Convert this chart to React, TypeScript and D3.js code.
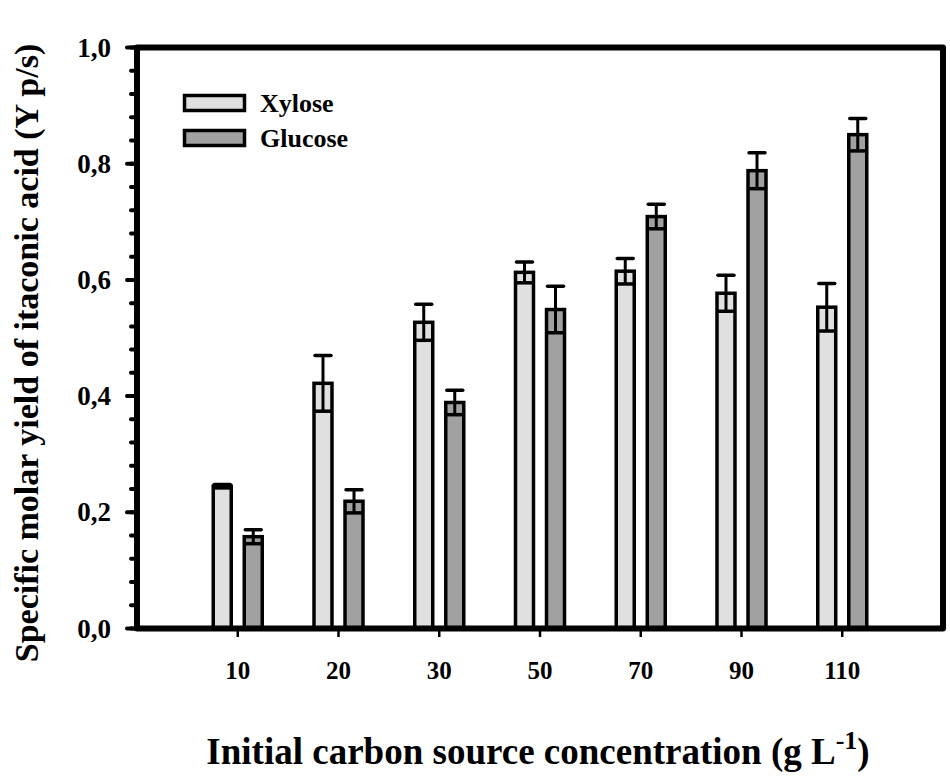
import React from 'react';
import * as d3 from 'd3';

const categories = ['10', '20', '30', '50', '70', '90', '110'];
const seriesNames = ['Xylose', 'Glucose'];
const xyloseMean = [0.245, 0.422, 0.527, 0.613, 0.615, 0.577, 0.553];
const xyloseErr = [0.003, 0.048, 0.031, 0.018, 0.022, 0.031, 0.041];
const glucoseMean = [0.158, 0.219, 0.389, 0.549, 0.709, 0.788, 0.850];
const glucoseErr = [0.012, 0.02, 0.021, 0.04, 0.021, 0.031, 0.028];
const yTicks = [0, 0.2, 0.4, 0.6, 0.8, 1.0];
const yMinor = d3.range(0, 1.0001, 0.04);

const fills: Record<string, string> = { Xylose: '#e0e0e0', Glucose: '#a1a1a1' };
const FONT = '"Liberation Serif", "Times New Roman", serif';

export default function App() {
  const left = 137, right = 943, top = 47.5, bottom = 628.5;

  const x = d3.scaleLinear().domain([0, categories.length + 1]).range([left, right]);
  const inner = d3.scaleBand<string>().domain(seriesNames).range([-24.5, 24.5]).paddingInner(0.42);
  const y = d3.scaleLinear().domain([0, 1]).range([bottom, top]);
  const fmt = (v: number) => d3.format('.1f')(v).replace('.', ',');

  const rows = categories.map((c, i) => ({
    c,
    i,
    vals: [
      { s: 'Xylose', m: xyloseMean[i], e: xyloseErr[i] },
      { s: 'Glucose', m: glucoseMean[i], e: glucoseErr[i] },
    ],
  }));
  const bw = inner.bandwidth();

  return (
    <div style={{ position: 'fixed', left: 0, top: 0 }}>
      <svg width={950} height={776} style={{ display: 'block', background: '#fff' }} fontFamily={FONT} fontWeight="bold">
        {/* bars */}
        {rows.map(r => (
          <g key={r.c}>
            {r.vals.map(v => {
              const bx = x(r.i + 1) + (inner(v.s) as number);
              const cx = bx + bw / 2;
              return (
                <g key={v.s}>
                  <rect x={bx} y={y(v.m)} width={bw} height={y(0) - y(v.m)} fill={fills[v.s]} stroke="#000" strokeWidth={3.5} />
                  <line x1={cx} x2={cx} y1={y(v.m + v.e)} y2={y(v.m - v.e)} stroke="#000" strokeWidth={3} />
                  <line x1={bx + 1} x2={bx + bw - 1} y1={y(v.m + v.e)} y2={y(v.m + v.e)} stroke="#000" strokeWidth={3.5} strokeLinecap="round" />
                  <line x1={bx} x2={bx + bw} y1={y(v.m - v.e)} y2={y(v.m - v.e)} stroke="#000" strokeWidth={3.5} />
                </g>
              );
            })}
            <line x1={x(r.i + 1)} x2={x(r.i + 1)} y1={bottom} y2={637} stroke="#000" strokeWidth={2.5} />
            <text x={x(r.i + 1)} y={679} textAnchor="middle" fontSize={25}>{r.c}</text>
          </g>
        ))}

        {/* y ticks */}
        {yMinor.map(t => (
          <line key={'m' + t} x1={left} x2={left - 6} y1={y(t)} y2={y(t)} stroke="#000" strokeWidth={4} strokeLinecap="round" />
        ))}
        {yTicks.map(t => (
          <g key={t}>
            <line x1={left} x2={left - 10} y1={y(t)} y2={y(t)} stroke="#000" strokeWidth={4} strokeLinecap="round" />
            <text x={111} y={y(t) + 9} textAnchor="end" fontSize={27}>{fmt(t)}</text>
          </g>
        ))}

        {/* frame */}
        <rect x={left} y={top} width={right - left} height={bottom - top} fill="none" stroke="#000" strokeWidth={6} strokeLinejoin="round" />

        {/* legend */}
        {seriesNames.map((s, i) => (
          <g key={s} transform={`translate(0,${i * 35})`}>
            <rect x={184.5} y={95.5} width={60} height={15} fill={fills[s]} stroke="#000" strokeWidth={3.5} />
            <text x={260} y={112} fontSize={26}>{s}</text>
          </g>
        ))}

        {/* axis titles */}
        <text transform="translate(38,353) rotate(-90)" textAnchor="middle" fontSize={34}>
          Specific molar yield of itaconic acid (Y p/s)
        </text>
        <text x={538} y={764} textAnchor="middle" fontSize={37}>
          Initial carbon source concentration (g L<tspan dy={-15} fontSize={26}>-1</tspan><tspan dy={15}>)</tspan>
        </text>
      </svg>
    </div>
  );
}
